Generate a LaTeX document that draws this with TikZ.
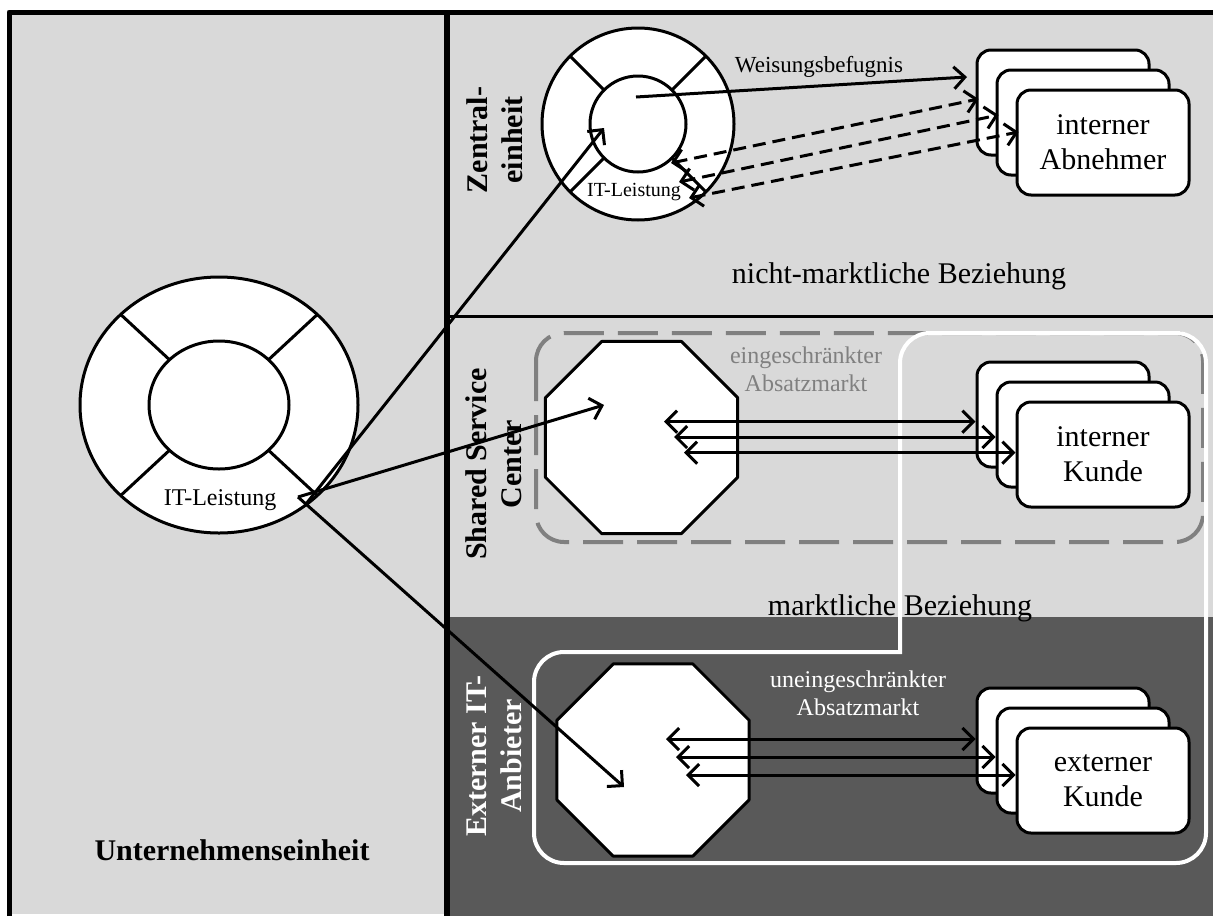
\documentclass[tikz,border=0pt]{standalone}
\usepackage{fontspec}
\setmainfont{Liberation Serif}
\usetikzlibrary{arrows.meta, shapes.geometric, calc}

\definecolor{panelgrau}{RGB}{217,217,217}
\definecolor{dunkelgrau}{RGB}{89,89,89}
\definecolor{strichgrau}{RGB}{128,128,128}

\tikzset{
  ring/.style={draw=black, line width=3pt, fill=white},
  kasten/.style={draw=black, line width=3pt, fill=white, rounded corners=14pt,
    minimum width=172pt, minimum height=105pt, inner sep=0pt, align=center,
    font=\fontsize{30}{35}\selectfont},
  achteck/.style={regular polygon, regular polygon sides=8, draw=black, line width=3pt,
    fill=white, minimum size=208pt, inner sep=0pt},
  pfeil/.style={line width=3pt, -{Straight Barb[length=11pt,width=22pt]}},
  doppelpfeil/.style={line width=3pt,
    {Straight Barb[length=11pt,width=22pt]}-{Straight Barb[length=11pt,width=22pt]}},
  seitentitel/.style={rotate=90, align=center, font=\bfseries\fontsize{30}{35}\selectfont},
  marktlabel/.style={align=center, font=\fontsize{24}{28}\selectfont},
}

\begin{document}
\begin{tikzpicture}[x=1pt, y=-1pt, line join=round]
\useasboundingbox (0,0) rectangle (1217,916);

% Felder und Rahmen
\fill[panelgrau] (10,14) rectangle (444,914);
\fill[panelgrau] (446,14) rectangle (1213,617);
\fill[dunkelgrau] (446,617) rectangle (1213,916);
\draw[line width=5pt] (9,916) -- (9,12) -- (1213,12);
\draw[line width=6pt] (446.5,12) -- (446.5,916);
\draw[line width=3.5pt] (446,316.5) -- (1213,316.5);

% Absatzmaerkte
\draw[strichgrau, line width=4pt, dash pattern=on 40pt off 14pt, rounded corners=28pt]
  (536,333) rectangle (1203,542);
\draw[white, line width=4pt, rounded corners=30pt, line cap=rect]
  (900,652) -- (900,333) -- (1206,333) -- (1206,863) -- (534,863) -- (534,652) -- (900,652);

% Ringe
\coordinate (gross) at (219,405);
\draw[ring] (gross) ellipse [x radius=139pt, y radius=128pt];
\draw[ring] (gross) ellipse [x radius=70pt, y radius=64pt];
\foreach \w in {45,135,225,315}
  \draw[line width=3pt] ($(gross)+(\w:70pt and 64pt)$) -- ($(gross)+(\w:139pt and 128pt)$);

\coordinate (zentral) at (638,124);
\draw[ring] (zentral) circle [radius=96pt];
\draw[ring] (zentral) circle [radius=48pt];
\foreach \w in {45,135,225,315}
  \draw[line width=3pt] ($(zentral)+(\w:48pt)$) -- ($(zentral)+(\w:96pt)$);

% Anbieter
\node[achteck] (ssc) at (641.5,437.5) {};
\node[achteck] (ext) at (653,760) {};

% Abnehmer und Kunden
\foreach \s/\y/\t in {ab/102.5/{interner\\Abnehmer}, kb/414.5/{interner\\Kunde}, xb/740.5/{externer\\Kunde}} {
  \node[kasten] (\s1) at (1063,\y) {};
  \node[kasten] (\s2) at (1083,\y+20) {};
  \node[kasten] (\s3) at (1103,\y+40) {\t};
}

% Verbindungen vom Ring
\coordinate (spitze) at (298,497);
\coordinate (knick) at (306,504);
\coordinate (zielZ) at (604,128);
\coordinate (zielS) at (604,405);
\coordinate (zielE) at (624,787);
\draw[pfeil] (knick) -- (zielZ);
\draw[pfeil] (spitze) -- (zielS);
\draw[pfeil] (spitze) -- (zielE);

% Zentraleinheit
\coordinate (weisung) at (636,97);
\coordinate (weisungziel) at (967,77);
\draw[pfeil] (weisung) -- (weisungziel);
\foreach \i/\x/\y/\d in {1/671/163/3.5, 2/679/182/7.5, 3/689/198/10.5} {
  \coordinate (r\i) at (\x,\y);
  \draw[doppelpfeil, dash pattern=on 13pt off 7pt] (r\i) -- ($(ab\i.west)+(3,-\d)$);
}

% Shared Service Center
\foreach \i/\x/\y in {1/664/421.7, 2/674/437, 3/684/452.7} {
  \coordinate (s\i) at (\x,\y);
  \draw[doppelpfeil] (s\i) -- (kb\i.west |- s\i);
}

% externer Anbieter
\foreach \i/\x/\y in {1/666/739, 2/676/757, 3/686/775} {
  \coordinate (e\i) at (\x,\y);
  \draw[doppelpfeil] (e\i) -- (xb\i.west |- e\i);
}

% Beschriftung
\node[anchor=base, font=\fontsize{24}{28}\selectfont] (leistung) at (220,505) {IT-Leistung};
\node[anchor=base, font=\fontsize{20}{24}\selectfont] (leistungZ) at (634,196) {IT-Leistung};
\node[anchor=base, font=\fontsize{23}{28}\selectfont] (befugnis) at (819,72) {Weisungsbefugnis};
\node[anchor=base, font=\fontsize{30}{35}\selectfont] (nichtmarkt) at (899,283) {nicht-marktliche Beziehung};
\node[anchor=base, font=\fontsize{30}{35}\selectfont] (markt) at (900,615) {marktliche Beziehung};
\node[marktlabel, strichgrau] (eing) at (806,369) {eingeschränkter\\Absatzmarkt};
\node[marktlabel, white] (uneing) at (858,693) {uneingeschränkter\\Absatzmarkt};
\node[seitentitel] (titelZ) at (495,140) {Zentral-\\einheit};
\node[seitentitel] (titelS) at (494,464) {Shared Service\\Center};
\node[seitentitel, white] (titelE) at (494,756) {Externer IT-\\Anbieter};
\node[anchor=base, font=\bfseries\fontsize{30}{35}\selectfont] (einheit) at (232,860) {Unternehmenseinheit};
\end{tikzpicture}
\end{document}
